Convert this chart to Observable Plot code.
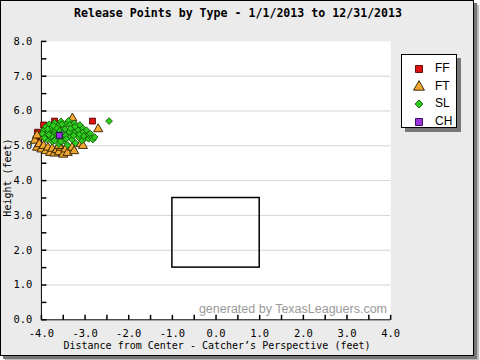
<!DOCTYPE html>
<html><head><meta charset="utf-8">
<script src="https://cdn.jsdelivr.net/npm/d3@7"></script>
<script src="https://cdn.jsdelivr.net/npm/@observablehq/plot@0.6"></script>
<style>
html,body{margin:0;padding:0;background:#fff;}
#frame{position:absolute;left:0;top:0;width:474px;height:356px;box-sizing:border-box;border:1px solid #000;background:#ebebeb;box-shadow:3px 3px 0 #777,5px 5px 1px #bbb;}
#chart{position:absolute;left:-1px;top:-1px;}
.t{position:absolute;font-family:"DejaVu Sans Mono",monospace;color:#000;white-space:nowrap;}
#title{top:5px;left:0;width:474px;text-align:center;font-weight:bold;font-size:11.6px;}
#xlab{top:339px;left:41px;width:350px;text-align:center;font-size:10px;}
#ylab{left:-39px;top:170px;width:90px;height:13px;line-height:13px;text-align:center;font-size:10px;transform:rotate(-90deg);transform-origin:50% 50%;}
#wm{position:absolute;left:180px;top:301px;width:206px;text-align:right;white-space:nowrap;font-family:"Liberation Sans",Arial,sans-serif;font-size:12.5px;color:#9a9a9a;}
#legend{position:absolute;left:400px;top:53px;width:54px;height:72px;background:#fff;border:1px solid #000;box-shadow:4px 4px 0 #777;}
.li{position:absolute;left:0;height:16px;width:54px;}
.li svg{position:absolute;left:10px;top:2px;}
.li span{position:absolute;left:33px;top:1px;font-family:"Liberation Sans",Arial,sans-serif;font-size:12px;}
</style></head>
<body>
<div id="frame">
<div id="chart"></div>
<div class="t" id="title">Release Points by Type - 1/1/2013 to 12/31/2013</div>
<div class="t" id="xlab">Distance from Center - Catcher’s Perspective (feet)</div>
<div class="t" id="ylab">Height (feet)</div>
<div id="wm">generated by TexasLeaguers.com</div>
<div id="legend"></div>
</div>
<script>
// ---- data ----
const pitchTypes = ["FF","FT","SL","CH"];
const ffX = [-3.70,-4.09,-3.89,-2.83,-4.12,-3.95,-3.55];
const ffY = [ 5.71, 5.39, 5.45, 5.71, 5.20, 5.60, 5.55];
const ftX = [-4.15,-4.10,-4.05,-4.00,-3.95,-3.90,-3.85,-3.80,-3.75,-3.70,-3.65,-3.60,-3.55,-3.50,-3.45,-3.40,-3.30,-3.25,-3.10,-4.10,-3.95,-3.29,-2.70,-3.05,-3.60];
const ftY = [ 5.15, 4.95, 5.05, 4.90, 5.00, 4.85, 4.95, 4.80, 4.92, 4.78, 4.88, 4.82, 4.95, 4.75, 4.90, 4.80, 4.95, 4.85, 5.05, 5.30, 5.25, 5.79, 5.48, 5.00, 5.00];
const slX = [-3.95,-3.92,-3.90,-3.88,-3.85,-3.82,-3.80,-3.78,-3.75,-3.72,-3.70,-3.68,-3.65,-3.62,-3.60,-3.58,-3.55,-3.52,-3.50,-3.48,-3.45,-3.42,-3.40,-3.38,-3.35,-3.32,-3.30,-3.28,-3.25,-3.22,-3.20,-3.18,-3.15,-3.12,-3.10,-3.07,-3.05,-3.02,-3.00,-2.97,-2.95,-2.92,-2.88,-2.85,-2.82,-3.60,-3.45,-3.35,-3.70,-3.25,-2.45,
              -3.98,-3.86,-3.76,-3.66,-3.56,-3.46,-3.36,-3.26,-3.16,-3.06,-3.93,-3.83,-3.73,-3.63,-3.53,-3.43,-3.33,-3.23,-3.13,-3.03,-2.78];
const slY = [ 5.45, 5.30, 5.55, 5.18, 5.40, 5.62, 5.25, 5.50, 5.12, 5.35, 5.66, 5.45, 5.22, 5.58, 5.05, 5.38, 5.70, 5.28, 5.50, 5.15, 5.62, 5.40, 5.02, 5.72, 5.30, 5.55, 5.18, 5.45, 5.65, 5.08, 5.35, 5.52, 5.25, 5.60, 5.42, 5.15, 5.50, 5.32, 5.22, 5.45, 5.28, 5.20, 5.35, 5.22, 5.18, 5.45, 5.30, 5.60, 5.15, 5.40, 5.71,
              5.35, 5.48, 5.28, 5.52, 5.12, 5.48, 5.40, 5.30, 5.45, 5.38, 5.22, 5.32, 5.58, 5.32, 5.62, 5.20, 5.50, 5.55, 5.33, 5.28, 5.25];
const chX = [-3.59];
const chY = [ 5.30];
const zoneX = [-1, 1];
const zoneY = [1.5, 3.5];
const xTicks = [-4,-3,-2,-1,0,1,2,3,4];
const yTicks = [0,1,2,3,4,5,6,7,8];
const xMinor = [-4,-3.5,-3,-2.5,-2,-1.5,-1,-0.5,0,0.5,1,1.5,2,2.5,3,3.5,4];
const yMinor = [0,0.5,1,1.5,2,2.5,3,3.5,4,4.5,5,5.5,6,6.5,7,7.5,8];
const gridY = [1,2,3,4,5,6,7];

const styles = {
  FF:{symbol:"square", fill:"#dd1111", stroke:"#5a0000", r:3.3},
  FT:{symbol:"triangle", fill:"#f2a730", stroke:"#2a1c00", r:3.4},
  SL:{symbol:"diamond2", fill:"#2fcc1f", stroke:"#0d5a00", r:3.0},
  CH:{symbol:"square", fill:"#9a33dd", stroke:"#2a0050", r:3.3}
};
const series = {
  FF: ffX.map((x,i)=>({x, y:ffY[i]})),
  FT: ftX.map((x,i)=>({x, y:ftY[i]})),
  SL: slX.map((x,i)=>({x, y:slY[i]})),
  CH: chX.map((x,i)=>({x, y:chY[i]}))
};
const tickRight = {draw(ctx){ctx.moveTo(0,0);ctx.lineTo(5,0);}};
const tickUp = {draw(ctx){ctx.moveTo(0,0);ctx.lineTo(0,-5);}};

const plot = Plot.plot({
  width: 474, height: 356,
  marginLeft: 41, marginRight: 83, marginTop: 41, marginBottom: 36,
  style: {background:"transparent", fontFamily:"DejaVu Sans Mono, monospace", fontSize:"10px", color:"#000"},
  x: {domain:[-4,4]},
  y: {domain:[0,8]},
  marks: [
    Plot.frame({fill:"white", stroke:null}),
    Plot.ruleY(gridY, {stroke:"#d4d4d4", strokeWidth:1}),
    Plot.rect([0], {x1:()=>zoneX[0], x2:()=>zoneX[1], y1:()=>zoneY[0], y2:()=>zoneY[1], fill:null, stroke:"#000", strokeWidth:1.5}),
    Plot.dot(yMinor, {x:()=>-4, y:d=>d, symbol:tickRight, stroke:"#000", r:5}),
    Plot.dot(xMinor, {x:d=>d, y:()=>0, symbol:tickUp, stroke:"#000", r:5}),
    Plot.ruleX([-4], {stroke:"#000"}),
    Plot.ruleY([0], {stroke:"#000"}),
    Plot.axisX({ticks:xTicks, tickSize:0, tickPadding:10, tickFormat:d=>d.toFixed(1), label:null, fontSize:10.5}),
    Plot.axisY({ticks:yTicks, tickSize:0, tickPadding:9, tickFormat:d=>d.toFixed(1), label:null, fontSize:10.5}),
    ...["FF","FT","SL","CH"].map(k => Plot.dot(series[k], {x:"x", y:"y", symbol:()=>styles[k].symbol, r:styles[k].r, fill:styles[k].fill, stroke:styles[k].stroke, strokeWidth:0.9}))
  ]
});
document.getElementById("chart").appendChild(plot);

// legend
const leg = document.getElementById("legend");
const symMap = {square:d3.symbolSquare, triangle:d3.symbolTriangle, diamond2:d3.symbolDiamond2};
pitchTypes.forEach((k,i)=>{
  const s = styles[k];
  const item = document.createElement("div");
  item.className = "li";
  item.style.top = (5 + i*17.5) + "px";
  const r = s.r * 1.2;
  const size = Math.PI * r * r;
  const path = d3.symbol(symMap[s.symbol], size)();
  item.innerHTML = `<svg width="14" height="14"><path transform="translate(7,7)" d="${path}" fill="${s.fill}" stroke="${s.stroke}" stroke-width="0.9"/></svg><span>${k}</span>`;
  leg.appendChild(item);
});
</script>
</body></html>
